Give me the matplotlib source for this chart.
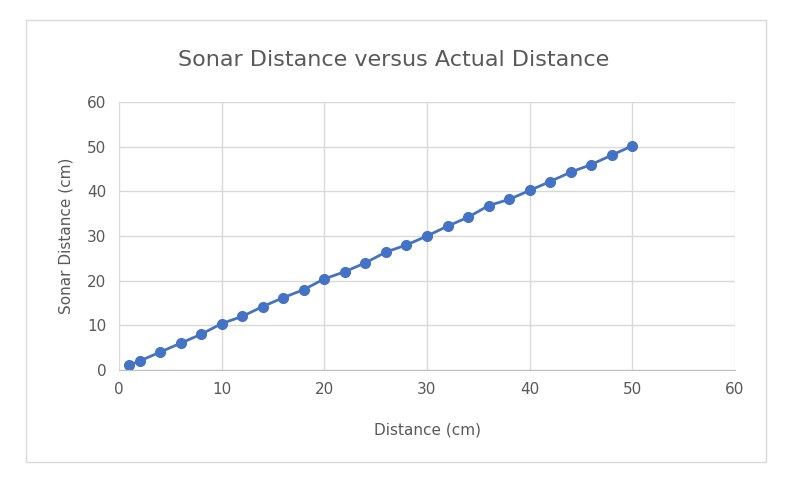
import matplotlib.pyplot as plt
from matplotlib.patches import Rectangle

actual = [1, 2, 4, 6, 8, 10, 12, 14, 16, 18, 20, 22, 24, 26, 28, 30,
          32, 34, 36, 38, 40, 42, 44, 46, 48, 50]
sonar = [1.1, 2.0, 4.0, 6.0, 8.0, 10.4, 12.0, 14.2, 16.2, 18.0, 20.4, 22.0, 24.0,
         26.4, 28.0, 30.0, 32.2, 34.2, 36.8, 38.2, 40.2, 42.2, 44.3, 46.0, 48.1, 50.2]

fig = plt.figure(figsize=(7.88, 4.82), dpi=100)
fig.patches.append(Rectangle((26 / 788, 20 / 482), 740 / 788, 442 / 482,
                             transform=fig.transFigure, fill=False,
                             edgecolor="#d9d9d9", linewidth=1))
ax = fig.add_axes([119 / 788, 112 / 482, 616 / 788, 268 / 482])

ax.plot(actual, sonar, "o-", color="#4472c4", linewidth=2, markersize=7)

ax.set_xlim(0, 60)
ax.set_ylim(0, 60)
ax.set_xticks(range(0, 61, 10))
ax.set_yticks(range(0, 61, 10))
ax.grid(True, color="#d9d9d9", linewidth=1)
ax.set_axisbelow(True)
for side in ["top", "right", "left"]:
    ax.spines[side].set_visible(False)
ax.spines["bottom"].set_color("#bfbfbf")
ax.tick_params(length=0, labelsize=11, colors="#595959", pad=9)

ax.set_xlabel("Distance (cm)", fontsize=11, color="#595959", labelpad=18)
ax.set_ylabel("Sonar Distance (cm)", fontsize=11, color="#595959", labelpad=10)
fig.text(0.5, 1 - 60 / 482, "Sonar Distance versus Actual Distance",
         ha="center", va="center", fontsize=16, color="#595959")

plt.savefig("out.png")
